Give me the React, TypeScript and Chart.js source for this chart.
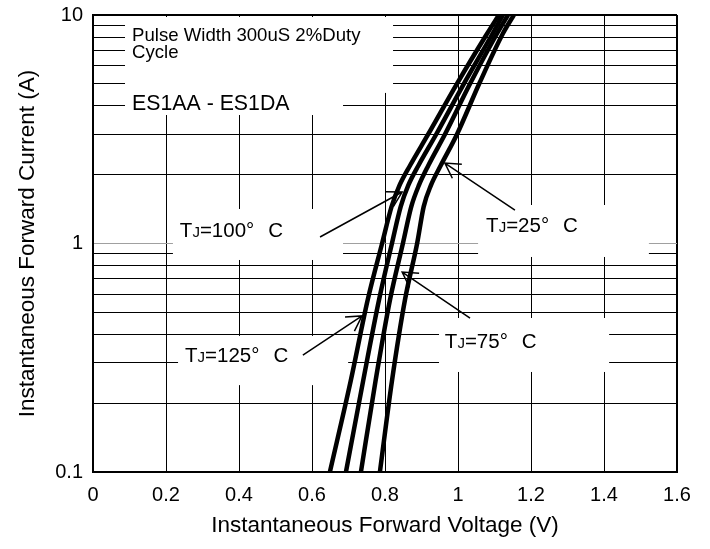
import React, { useEffect, useRef } from 'react';
import { Chart, registerables } from 'chart.js';

Chart.register(...registerables);

// ---- data ----
const currentA = [0.1, 0.25, 0.57, 1, 1.45, 1.8, 2.2, 3, 5, 8.3, 10];
const vf125 = [0.649, 0.706, 0.753, 0.792, 0.818, 0.84, 0.869, 0.918, 0.997, 1.08, 1.112];
const vf100 = [0.693, 0.74, 0.784, 0.819, 0.843, 0.864, 0.892, 0.94, 1.016, 1.095, 1.123];
const vf75 = [0.734, 0.774, 0.814, 0.849, 0.872, 0.893, 0.919, 0.964, 1.033, 1.107, 1.137];
const vf25 = [0.786, 0.819, 0.855, 0.888, 0.906, 0.926, 0.953, 0.997, 1.058, 1.123, 1.153];

const xTicks = [0, 0.2, 0.4, 0.6, 0.8, 1, 1.2, 1.4, 1.6];
const yTicks = [0.1, 0.2, 0.3, 0.4, 0.5, 0.6, 0.7, 0.8, 0.9, 1, 2, 3, 4, 5, 6, 7, 8, 9, 10];
const yLabels = [0.1, 1, 10];

// ---- annotation layout (in data coordinates) ----
const whiteBoxes = [
  { x0: 0.0877, x1: 0.822, y0: 9.8, y1: 4.56 },
  { x0: 0.0877, x1: 0.685, y0: 4.94, y1: 3.65 },
  { x0: 0.219, x1: 0.685, y0: 1.416, y1: 0.847 },
  { x0: 0.233, x1: 0.699, y0: 0.394, y1: 0.24 },
  { x0: 1.055, x1: 1.523, y0: 1.474, y1: 0.873 },
  { x0: 0.948, x1: 1.414, y0: 0.472, y1: 0.274 },
];

const tjLabels = [
  { temp: '100', x: 0.238, y: 1.15, lx0: 0.622, ly0: 1.068, lx1: 0.847, ly1: 1.68 },
  { temp: '125', x: 0.252, y: 0.327, lx0: 0.575, ly0: 0.325, lx1: 0.737, ly1: 0.482 },
  { temp: '25', x: 1.077, y: 1.205, lx0: 1.156, ly0: 1.401, lx1: 0.964, ly1: 2.25 },
  { temp: '75', x: 0.964, y: 0.3745, lx0: 1.033, ly0: 0.472, lx1: 0.847, ly1: 0.75 },
];

const FONT = '"Liberation Sans", Arial, sans-serif';

const annotationPlugin = {
  id: 'annotations',
  beforeDatasetsDraw(chart: any) {
    const ctx = chart.ctx as CanvasRenderingContext2D;
    const xs = chart.scales.x;
    const ys = chart.scales.y;
    const px = (v: number) => xs.getPixelForValue(v);
    const py = (v: number) => ys.getPixelForValue(v);
    ctx.save();
    ctx.fillStyle = '#ffffff';
    for (const b of whiteBoxes) {
      ctx.fillRect(px(b.x0), py(b.y0), px(b.x1) - px(b.x0), py(b.y1) - py(b.y0));
    }
    ctx.fillStyle = '#000';
    ctx.textBaseline = 'alphabetic';
    ctx.textAlign = 'left';
    // Pulse width text
    const tx = px(0.107);
    const ty = py(8.18);
    ctx.font = `18.6px ${FONT}`;
    ctx.fillText('Pulse Width 300uS 2%Duty', tx, ty + 6.5);
    ctx.fillText('Cycle', tx, ty + 6.5 + 17);
    ctx.font = `21.3px ${FONT}`;
    ctx.fillText('ES1AA - ES1DA', px(0.107), py(4.14) + 7.5);

    for (const l of tjLabels) {
      let x = px(l.x);
      const base = py(l.y) + 7.5;
      ctx.font = `20.5px ${FONT}`;
      ctx.fillText('T', x, base);
      x += ctx.measureText('T').width;
      ctx.font = `15px ${FONT}`;
      ctx.fillText('J', x, base);
      x += ctx.measureText('J').width;
      ctx.font = `20.5px ${FONT}`;
      const s = '=' + l.temp + '°';
      ctx.fillText(s, x, base);
      x += ctx.measureText(s).width + 14;
      ctx.fillText('C', x, base);

      // leader line with open arrowhead
      const x0 = px(l.lx0), y0 = py(l.ly0), x1 = px(l.lx1), y1 = py(l.ly1);
      ctx.strokeStyle = '#000';
      ctx.lineWidth = 1.5;
      ctx.beginPath();
      ctx.moveTo(x0, y0);
      ctx.lineTo(x1, y1);
      const ang = Math.atan2(y0 - y1, x0 - x1);
      const hl = 17;
      const ha = Math.PI / 6;
      ctx.moveTo(x1 + hl * Math.cos(ang - ha), y1 + hl * Math.sin(ang - ha));
      ctx.lineTo(x1, y1);
      ctx.lineTo(x1 + hl * Math.cos(ang + ha), y1 + hl * Math.sin(ang + ha));
      ctx.stroke();
    }
    ctx.restore();
  },
};

function mk(v: number[]) {
  return v.map((x, i) => ({ x, y: currentA[i] }));
}

export default function App() {
  const ref = useRef<HTMLCanvasElement | null>(null);
  useEffect(() => {
    document.body.style.margin = '0';
    const canvas = ref.current!;
    const ds = (data: number[]) => ({
      data: mk(data),
      borderColor: '#000',
      borderWidth: 4.5,
      pointRadius: 0,
      fill: false,
      cubicInterpolationMode: 'monotone' as const,
      clip: 0,
    });
    const chart = new Chart(canvas, {
      type: 'line',
      data: {
        datasets: [ds(vf125), ds(vf100), ds(vf75), ds(vf25)],
      },
      options: {
        animation: false,
        responsive: false,
        devicePixelRatio: 1,
        layout: { padding: { left: 0, top: 15, right: 33, bottom: 0 } },
        plugins: { legend: { display: false }, tooltip: { enabled: false } },
        scales: {
          x: {
            type: 'linear',
            min: 0,
            max: 1.6,
            afterBuildTicks: (s: any) => {
              s.ticks = xTicks.map((v) => ({ value: v }));
            },
            afterFit: (s: any) => {
              s.height = 77;
              s.paddingLeft = 0;
              s.paddingRight = 0;
            },
            ticks: {
              autoSkip: false,
              maxRotation: 0,
              padding: 11,
              color: '#000',
              font: { family: FONT, size: 20 },
              callback: (v: any) => String(v),
            },
            grid: {
              drawTicks: false,
              color: '#000',
              lineWidth: (c: any) => (c.index === xTicks.length - 1 ? 2 : 1),
            },
            border: { display: true, color: '#000', width: 2 },
            title: {
              display: true,
              text: 'Instantaneous Forward Voltage (V)',
              color: '#000',
              font: { family: FONT, size: 22.5 },
              padding: { top: 0, bottom: 10 },
            },
          },
          y: {
            type: 'logarithmic',
            min: 0.1,
            max: 10,
            afterBuildTicks: (s: any) => {
              s.ticks = yTicks.map((v) => ({ value: v }));
            },
            afterFit: (s: any) => {
              s.width = 93;
              s.paddingTop = 0;
              s.paddingBottom = 0;
            },
            ticks: {
              autoSkip: false,
              padding: 10,
              color: '#000',
              font: { family: FONT, size: 20 },
              callback: (v: any) => (yLabels.includes(Number(v)) ? String(v) : ''),
            },
            grid: {
              drawTicks: false,
              color: (c: any) => (c.tick && c.tick.value === 1 ? '#a0a0a0' : '#000'),
              lineWidth: (c: any) => (c.tick && c.tick.value === 10 ? 2 : 1),
            },
            border: { display: true, color: '#000', width: 2 },
            title: {
              display: true,
              text: 'Instantaneous Forward Current (A)',
              color: '#000',
              font: { family: FONT, size: 22.5 },
              padding: { top: 14, bottom: 0 },
            },
          },
        },
      },
      plugins: [annotationPlugin],
    });
    return () => chart.destroy();
  }, []);
  return (
    <div style={{ width: 710, height: 549 }}>
      <canvas ref={ref} width={710} height={549} style={{ width: 710, height: 549, display: 'block' }} />
    </div>
  );
}
